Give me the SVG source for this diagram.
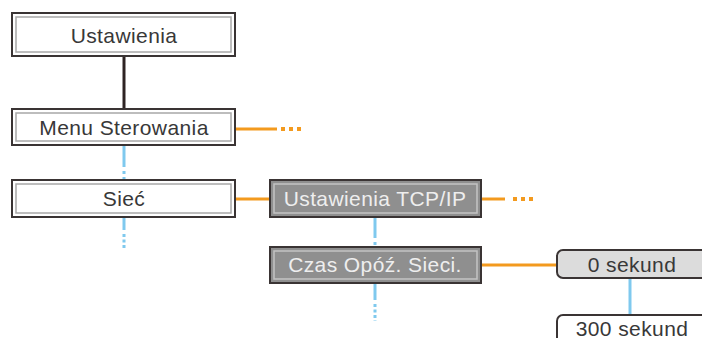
<svg xmlns="http://www.w3.org/2000/svg" width="702" height="338" viewBox="0 0 702 338">
<style>
.o{fill:none;stroke:#3a3434;stroke-width:2}
.iw{fill:#fff;stroke:#a8a8a8;stroke-width:1.5}
.ig{fill:#8f8f8f;stroke:#c4c4c4;stroke-width:1.5}
.t{font-family:"Liberation Sans",Arial,sans-serif;font-size:21px;letter-spacing:0.4px;text-anchor:middle;fill:#383838}
.tw{font-family:"Liberation Sans",Arial,sans-serif;font-size:21px;letter-spacing:0.4px;text-anchor:middle;fill:#eeeeee}
.or{stroke:#f39a1e;stroke-width:3;fill:none}
.ord{stroke:#f39a1e;stroke-width:4;fill:none;stroke-dasharray:4 4}
.bl{stroke:#7fc9ee;stroke-width:3;fill:none}
</style>
<rect width="702" height="338" fill="#fff"/>
<g id="connectors">
<line x1="124" y1="56" x2="124" y2="109" stroke="#2e2424" stroke-width="3"/>
<line class="or" x1="235" y1="129" x2="277" y2="129"/>
<line class="ord" x1="281" y1="129" x2="305" y2="129"/>
<line class="or" x1="235" y1="199" x2="270" y2="199"/>
<line class="or" x1="481" y1="199" x2="505" y2="199"/>
<line class="ord" x1="513" y1="199" x2="537" y2="199"/>
<line class="or" x1="481" y1="265" x2="558" y2="265"/>
<line class="bl" x1="124" y1="145" x2="124" y2="167"/>
<line class="bl" x1="124" y1="171" x2="124" y2="180" stroke-dasharray="3 3"/>
<line class="bl" x1="124" y1="217" x2="124" y2="230"/>
<line class="bl" x1="124" y1="234" x2="124" y2="248" stroke-dasharray="3 2.5"/>
<line class="bl" x1="375" y1="217" x2="375" y2="238"/>
<line class="bl" x1="375" y1="242" x2="375" y2="247" stroke-dasharray="3 3"/>
<line class="bl" x1="375" y1="283" x2="375" y2="300"/>
<line class="bl" x1="375" y1="304" x2="375" y2="321" stroke-dasharray="3 2.5"/>
<line class="bl" x1="630" y1="278" x2="630" y2="315"/>
</g>
<g id="n-ustawienia">
<rect x="12" y="13" width="223" height="43" fill="#fff" class="o"/>
<rect x="16" y="17" width="215" height="35" class="iw"/>
<text class="t" x="124" y="43">Ustawienia</text>
</g>
<g id="n-menu">
<rect x="12" y="109" width="223" height="36" fill="#fff" class="o"/>
<rect x="16" y="113" width="215" height="28" class="iw"/>
<text class="t" x="124" y="135">Menu Sterowania</text>
</g>
<g id="n-siec">
<rect x="12" y="180" width="223" height="37" fill="#fff" class="o"/>
<rect x="16" y="184" width="215" height="29" class="iw"/>
<text class="t" x="124" y="206">Sieć</text>
</g>
<g id="n-tcpip">
<rect x="270" y="180" width="211" height="37" class="o" style="fill:#8f8f8f"/>
<rect x="274" y="184" width="203" height="29" class="ig"/>
<text class="tw" x="375" y="206">Ustawienia TCP/IP</text>
</g>
<g id="n-czas">
<rect x="270" y="247" width="211" height="36" class="o" style="fill:#8f8f8f"/>
<rect x="274" y="251" width="203" height="28" class="ig"/>
<text class="tw" x="375" y="272">Czas Opóź. Sieci.</text>
</g>
<g id="n-0sek">
<rect x="557" y="250" width="150" height="28" rx="6" ry="6" fill="#dcdcdc" stroke="#3a3434" stroke-width="2"/>
<text class="t" x="632" y="272">0 sekund</text>
</g>
<g id="n-300sek">
<rect x="557" y="315" width="150" height="30" rx="6" ry="6" fill="#fff" stroke="#3a3434" stroke-width="2"/>
<text class="t" x="632" y="336">300 sekund</text>
</g>
</svg>
